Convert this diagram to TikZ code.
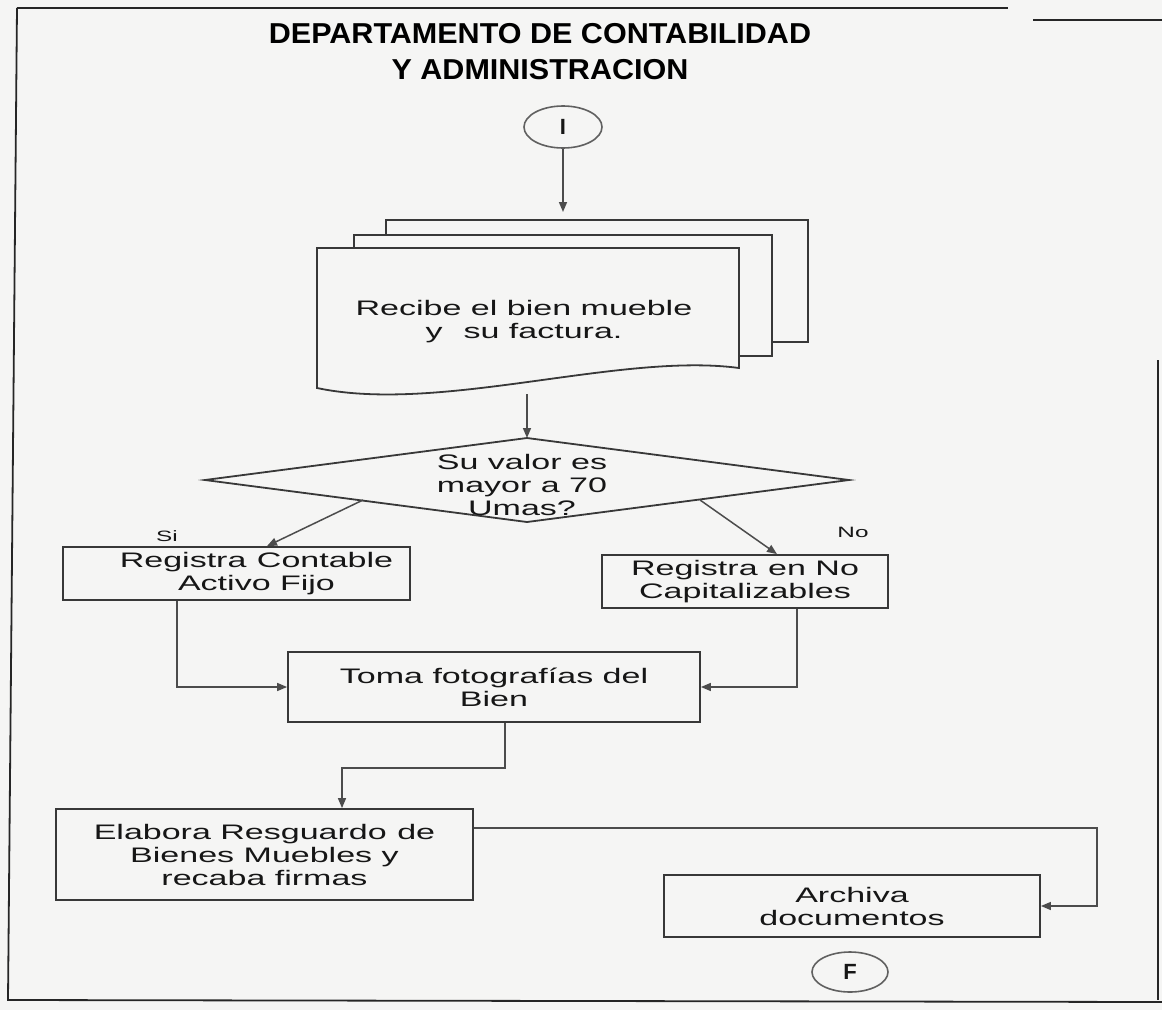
\documentclass[tikz,border=0pt]{standalone}
\usepackage{fontspec}
\setmainfont{Liberation Sans}
\newfontfamily\titleface{Liberation Sans}[FakeStretch=1.06]
\newfontfamily\wideface{Liberation Sans}[FakeStretch=1.62]
\usetikzlibrary{arrows.meta,calc,shapes.geometric}

\definecolor{paper}{HTML}{F5F5F4}
\definecolor{ink}{HTML}{383838}
\definecolor{txt}{HTML}{161616}

\newcommand\boxtxt{\wideface\fontsize{21bp}{23bp}\selectfont}
\newcommand\smalltxt{\wideface\fontsize{15bp}{17bp}\selectfont}
\newcommand\headtxt{\titleface\bfseries\fontsize{28.8bp}{36bp}\selectfont}
\newcommand\termtxt{\bfseries\fontsize{22bp}{24bp}\selectfont}

\begin{document}
\begin{tikzpicture}[x=1bp,y=-1bp,
  box/.style={draw=ink, line width=1.8bp, fill=paper, inner sep=0pt,
    align=center, text=txt, font=\boxtxt},
  plain/.style={inner sep=0pt, align=center, text=txt, font=\boxtxt},
  term/.style={ellipse, draw=ink!80, line width=1.6bp, fill=paper, inner sep=0pt,
    minimum width=78bp, minimum height=42bp, text=txt, font=\termtxt},
  conn/.style={draw=ink!90, line width=1.5bp, -{Triangle[length=10bp,width=8bp]}},
  sheet/.style={draw=ink, line width=1.8bp, fill=paper},
  frame/.style={draw=black!85, line width=1.8bp}]

% page
\fill[paper] (0,0) rectangle (1162,1010);
\useasboundingbox (0,0) rectangle (1162,1010);

% outer frame of the sheet
\draw[frame] (17,8) -- (1008,8);
\draw[frame] (1033,20) -- (1162,20);
\draw[frame] (17,8) -- (8,1000) -- (1162,1002);
\draw[frame] (1158,360) -- (1158,1000);

% heading
\node[inner sep=0pt, text=black, font=\headtxt, align=center] (head) at (540,52)
  {DEPARTAMENTO DE CONTABILIDAD\\Y ADMINISTRACION};

% start terminal
\node[term] (ini) at (563,127) {I};

% stacked documents
\draw[sheet] (386,220) rectangle (808,342);
\draw[sheet] (354,235) rectangle (772,356);
\draw[sheet] (317,248) -- (739,248) -- (739,368)
  .. controls (620,352) and (440,414) .. (317,388) -- cycle;
\node[plain] (doc) at (524,322) {Recibe el bien mueble\\y\quad su factura.};
\coordinate (doctop) at (563,212);
\coordinate (docbot) at (527,394);

% decision
\coordinate (dtop) at (527,438);
\coordinate (dleft) at (205,480);
\coordinate (dbot) at (527,522);
\coordinate (dright) at (849,480);
\draw[sheet] (dtop) -- (dright) -- (dbot) -- (dleft) -- cycle;
\node[plain] (dec) at (522,485) {Su valor es\\mayor a 70\\Umas?};
\coordinate (dsi) at (363,500);
\coordinate (dno) at (700,500);

% process boxes
\node[box, minimum width=347bp, minimum height=53bp] (rc) at (236.5,573.5)
  {\hspace*{40bp}Registra\enspace Contable\\\hspace*{40bp}Activo Fijo};
\node[box, minimum width=286bp, minimum height=53bp] (rn) at (745,581.5)
  {Registra\enspace en No\\Capitalizables};
\node[box, minimum width=412bp, minimum height=70bp] (toma) at (494,687)
  {Toma fotografías del\\Bien};
\node[box, minimum width=417bp, minimum height=91bp] (elab) at (264.5,854.5)
  {Elabora Resguardo\enspace de\\Bienes Muebles y\\recaba firmas};
\node[box, minimum width=376bp, minimum height=62bp] (arch) at (852,906)
  {Archiva\\documentos};

% end terminal
\node[term, minimum width=76bp, minimum height=40bp] (fin) at (850,972) {F};

% branch labels
\node[inner sep=0pt, text=txt, font=\smalltxt] (lsi) at (167,536) {Si};
\node[inner sep=0pt, text=txt, font=\smalltxt] (lno) at (853,532) {No};

% flow
\draw[conn] (ini.south) -- (doctop);
\draw[conn] (docbot) -- (dtop);
\draw[conn] (dsi) -- (rc.north -| 267,0);
\draw[conn] (dno) -- (rn.north -| 777,0);

\coordinate (a1) at (177,0);
\coordinate (a2) at (797,0);
\draw[conn] (rc.south -| a1) |- (toma.west);
\draw[conn] (rn.south -| a2) |- (toma.east);

\coordinate (j1) at (505,768);
\coordinate (j2) at (342,768);
\draw[conn] (toma.south -| j1) -- (j1) -- (j2) -- (elab.north -| j2);

\coordinate (k1) at (1097,828);
\draw[conn] (elab.east |- k1) -- (k1) |- (arch.east);
\end{tikzpicture}
\end{document}
